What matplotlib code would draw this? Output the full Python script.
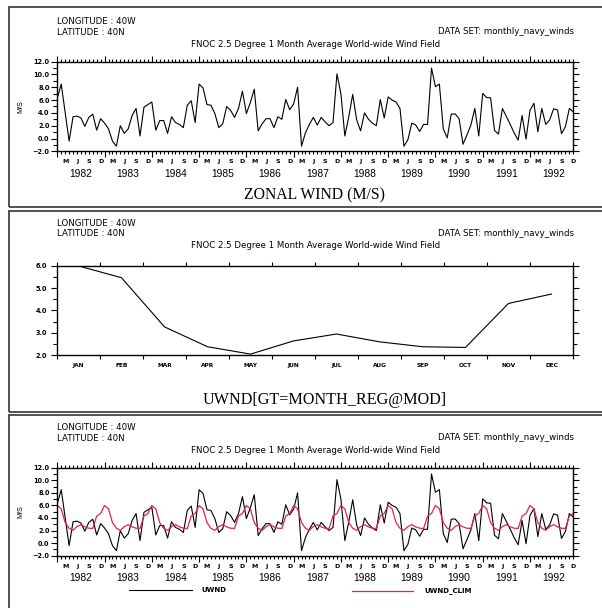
import numpy as np
import matplotlib
matplotlib.use("Agg")
import matplotlib.pyplot as plt
from matplotlib.lines import Line2D
from matplotlib.patches import Rectangle

# monthly zonal wind, Jan 1982 .. Dec 1992 (M/S)
uwnd = [
    6.3, 8.5, 4.0, -0.4, 3.4, 3.5, 3.2, 1.9, 3.3, 3.8, 1.3, 3.1,        # 1982
    2.4, 1.5, -0.4, -1.2, 2.0, 0.8, 1.5, 3.6, 4.7, 0.4, 4.9, 5.3,       # 1983
    5.7, 1.3, 2.8, 2.8, 0.8, 3.4, 2.5, 2.2, 1.7, 5.2, 5.9, 2.5,         # 1984
    8.5, 7.9, 5.3, 5.2, 3.9, 1.7, 2.3, 5.0, 4.4, 3.3, 4.7, 7.4,         # 1985
    3.9, 5.6, 7.7, 1.2, 2.3, 3.1, 3.1, 1.7, 3.4, 3.0, 6.1, 4.5,         # 1986
    5.4, 8.0, -1.2, 0.9, 2.2, 3.3, 2.1, 3.3, 2.6, 2.0, 2.5, 10.1,       # 1987
    7.0, 0.4, 3.4, 6.9, 2.9, 1.2, 4.0, 3.0, 2.4, 2.0, 6.1, 3.2,         # 1988
    6.5, 6.0, 5.7, 4.7, -1.2, -0.2, 2.4, 2.1, 1.1, 2.2, 2.2, 11.0,      # 1989
    8.1, 8.5, 1.5, 0.1, 3.8, 3.85, 3.1, -0.9, 0.55, 2.1, 4.7, 0.4,      # 1990
    7.05, 6.4, 6.35, 1.25, 0.7, 4.7, 3.45, 2.2, 0.85, -0.25, 3.6, -0.1, # 1991
    4.4, 5.5, 1.05, 4.7, 2.2, 2.9, 4.65, 4.45, 0.75, 1.85, 4.7, 4.15,   # 1992
]
# monthly climatology (UWND[GT=MONTH_REG@MOD])
uwnd_clim = [5.99, 5.46, 3.26, 2.37, 2.04, 2.63, 2.94, 2.59, 2.37, 2.34, 4.31, 4.73]

years = ["1982", "1983", "1984", "1985", "1986", "1987",
         "1988", "1989", "1990", "1991", "1992"]
month_letters = {2: "M", 5: "J", 8: "S", 11: "D"}
month_names = ["JAN", "FEB", "MAR", "APR", "MAY", "JUN",
               "JUL", "AUG", "SEP", "OCT", "NOV", "DEC"]
ts_yticks = [-2, 0, 2, 4, 6, 8, 10, 12]
ts_ylabels = ["\u22122.0", "0.0", "2.0", "4.0", "6.0", "8.0", "10.0", "12.0"]
clim_yticks = [2, 3, 4, 5, 6]
clim_ylabels = ["2.0", "3.0", "4.0", "5.0", "6.0"]

W, H = 602, 608
fig = plt.figure(figsize=(W / 100, H / 100), dpi=100)
RED = "#e4234f"
SANS = "DejaVu Sans"
SERIF = "Liberation Serif"
HDR = 6.2


def axes_px(x0, y0, x1, y1):
    return fig.add_axes([x0 / W, 1 - y1 / H, (x1 - x0) / W, (y1 - y0) / H])


def ftext(x, y, s, **kw):
    fig.text(x / W, 1 - y / H, s, **kw)


def frame(y0, y1):
    fig.add_artist(Rectangle((9 / W, 1 - y1 / H), 700 / W, (y1 - y0) / H,
                             transform=fig.transFigure, fill=False,
                             ec="#333333", lw=1.2, clip_on=False))


def header(y_lon):
    ftext(57, y_lon, "LONGITUDE : 40W", fontsize=HDR, family=SANS, va="center")
    ftext(57, y_lon + 10.5, "LATITUDE : 40N", fontsize=HDR, family=SANS, va="center")
    ftext(574, y_lon + 10.2, "DATA SET: monthly_navy_winds", fontsize=HDR,
          family=SANS, va="center", ha="right")
    ftext(315.5, y_lon + 22.6, "FNOC 2.5 Degree 1 Month Average World-wide Wind Field",
          fontsize=HDR, family=SANS, va="center", ha="center")


def style_axes(ax):
    for s in ax.spines.values():
        s.set_linewidth(1.0)
    ax.tick_params(axis="both", which="both", direction="out", top=True, right=True,
                   labeltop=False, labelright=False, width=0.8)
    ax.tick_params(axis="y", which="major", length=4.0, pad=1.5)
    ax.tick_params(axis="y", which="minor", length=3.0)
    for lab in ax.get_yticklabels():
        lab.set_fontsize(4.7)
        lab.set_fontweight("bold")
        lab.set_family(SANS)


def time_axes(y0, y1):
    ax = axes_px(57.3, y0, 573.3, y1)
    n = len(uwnd)
    ax.set_xlim(0, n - 1)
    ax.set_ylim(-2, 12)
    ax.set_xticks(np.arange(0, n, 12))
    ax.set_xticks(np.arange(0, n), minor=True)
    ax.set_xticklabels([])
    ax.set_yticks(ts_yticks)
    ax.set_yticklabels(ts_ylabels)
    ax.set_yticks(np.arange(-1, 12, 2), minor=True)
    style_axes(ax)
    ax.tick_params(axis="x", which="major", length=4.0)
    ax.tick_params(axis="x", which="minor", length=2.2)
    tr = ax.get_xaxis_transform()
    for i in range(n):
        if i % 12 in month_letters:
            ax.annotate(month_letters[i % 12], (i, 0), xycoords=tr, xytext=(0, -7.7),
                        textcoords="offset points", ha="center", va="center",
                        fontsize=4.5, fontweight="bold", family=SANS)
    for k, yr in enumerate(years):
        ax.annotate(yr, (12 * k + 6, 0), xycoords=tr, xytext=(0, -16.2),
                    textcoords="offset points", ha="center", va="center",
                    fontsize=7.4, family="Liberation Sans")
    ax.set_ylabel("M/S", fontsize=5.2, family="Liberation Sans", labelpad=6)
    return ax


# ---- panel 1 : zonal wind time series
frame(7.3, 207.5)
header(21.7)
ax1 = time_axes(61.7, 151.3)
ax1.plot(np.arange(len(uwnd)), uwnd, color="black", lw=0.8)
ftext(315, 195, "ZONAL WIND (M/S)", fontsize=11.3, family=SERIF, ha="center", va="center")

# ---- panel 2 : monthly climatology
frame(210.5, 411.5)
header(223.3)
ax2 = axes_px(57, 265.7, 573, 355)
ax2.set_xlim(0, 12)
ax2.set_ylim(2, 6)
ax2.plot(np.arange(12) + 0.5, uwnd_clim, color="black", lw=0.8)
ax2.set_xticks(np.arange(0, 13))
ax2.set_xticklabels([])
ax2.set_yticks(clim_yticks)
ax2.set_yticklabels(clim_ylabels)
ax2.set_yticks(np.arange(2.5, 6, 1), minor=True)
style_axes(ax2)
ax2.tick_params(axis="x", which="major", length=3.0)
ax2.tick_params(axis="y", which="major", pad=3.0)
tr2 = ax2.get_xaxis_transform()
for m, name in enumerate(month_names):
    ax2.annotate(name, (m + 0.5, 0), xycoords=tr2, xytext=(0, -7.7),
                 textcoords="offset points", ha="center", va="center",
                 fontsize=4.2, fontweight="bold", family=SANS)
ftext(325, 400, "UWND[GT=MONTH_REG@MOD]", fontsize=11.6, family=SERIF,
      ha="center", va="center")

# ---- panel 3 : series with climatology overlaid
frame(414.5, 700)
header(427.7)
ax3 = time_axes(467.7, 555.7)
clim_series = np.tile(uwnd_clim, len(years))
ax3.plot(np.arange(len(uwnd)), uwnd, color="black", lw=0.8)
ax3.plot(np.arange(len(clim_series)), clim_series, color=RED, lw=0.9)

# legend
fig.add_artist(Line2D([129.3 / W, 191.7 / W], [1 - 590 / H, 1 - 590 / H],
                      color="black", lw=0.8, transform=fig.transFigure))
ftext(201.7, 590, "UWND", fontsize=5.0, fontweight="bold", family=SANS, va="center")
fig.add_artist(Line2D([351.7 / W, 413.3 / W], [1 - 590.5 / H, 1 - 590.5 / H],
                      color=RED, lw=0.9, transform=fig.transFigure))
ftext(424, 590.5, "UWND_CLIM", fontsize=5.0, fontweight="bold", family=SANS, va="center")

fig.savefig("out.png", dpi=100, facecolor="white")
